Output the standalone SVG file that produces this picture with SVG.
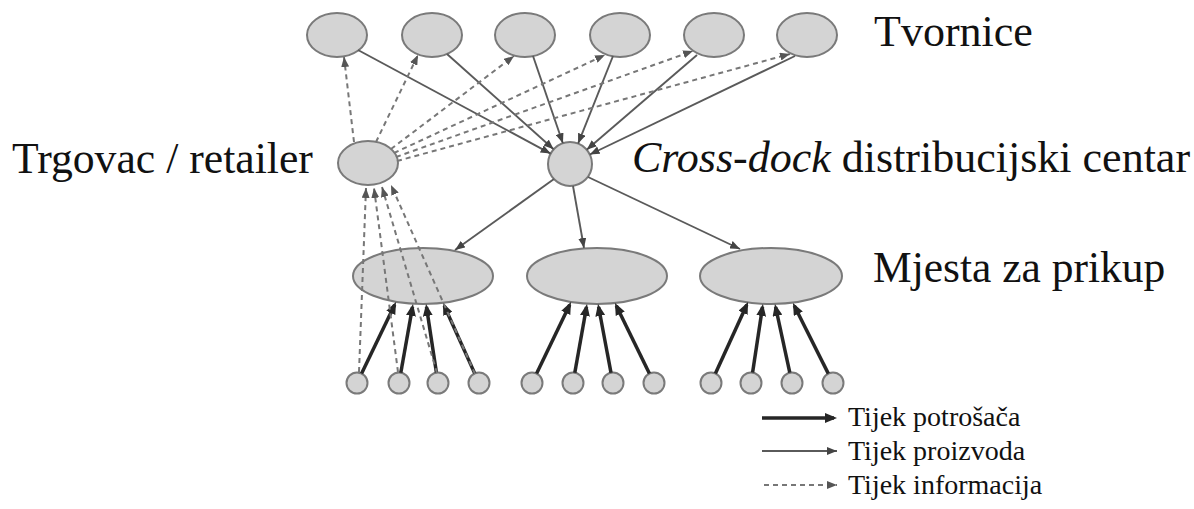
<svg xmlns="http://www.w3.org/2000/svg" width="1194" height="509" viewBox="0 0 1194 509">
  <style>
    .node { fill: #d4d4d4; stroke: #7a7a7a; stroke-width: 2; }
    .thick { stroke: #262626; stroke-width: 3.5; fill: none; marker-end: url(#mThick); }
    .prod { stroke: #5a5a5a; stroke-width: 1.9; fill: none; marker-end: url(#mProd); }
    .info { stroke: #777; stroke-width: 2; stroke-dasharray: 5 4; fill: none; marker-end: url(#mInfo); }
    text { font-family: 'Liberation Serif', 'DejaVu Serif', serif; fill: #111; }
  </style>
  <defs>
    <marker id="mThick" viewBox="0 0 12 10" refX="9" refY="5" markerWidth="12" markerHeight="10" markerUnits="userSpaceOnUse" orient="auto">
      <path d="M0,0 L12,5 L0,10 z" fill="#262626"/>
    </marker>
    <marker id="mProd" viewBox="0 0 10 8" refX="10" refY="4" markerWidth="10" markerHeight="8" markerUnits="userSpaceOnUse" orient="auto">
      <path d="M0,0 L10,4 L0,8 z" fill="#444"/>
    </marker>
    <marker id="mInfo" viewBox="0 0 10 8" refX="10" refY="4" markerWidth="10" markerHeight="8" markerUnits="userSpaceOnUse" orient="auto">
      <path d="M0,0 L10,4 L0,8 z" fill="#555"/>
    </marker>
  </defs>

  <g id="factories">
    <g id="factory1"><ellipse class="node" cx="337" cy="35" rx="30" ry="22"/></g>
    <g id="factory2"><ellipse class="node" cx="432" cy="35" rx="30" ry="22"/></g>
    <g id="factory3"><ellipse class="node" cx="525" cy="35" rx="30" ry="22"/></g>
    <g id="factory4"><ellipse class="node" cx="620" cy="35" rx="30" ry="22"/></g>
    <g id="factory5"><ellipse class="node" cx="714" cy="35" rx="30" ry="22"/></g>
    <g id="factory6"><ellipse class="node" cx="807" cy="35" rx="30" ry="22"/></g>
  </g>
  <g id="retailer"><ellipse class="node" cx="368" cy="163" rx="30" ry="22"/></g>
  <g id="crossdock"><circle class="node" cx="570" cy="164" r="22"/></g>
  <g id="pickup1"><ellipse class="node" cx="423" cy="276" rx="70" ry="28"/></g>
  <g id="pickup2"><ellipse class="node" cx="597" cy="276" rx="70" ry="28"/></g>
  <g id="pickup3"><ellipse class="node" cx="771" cy="276" rx="71" ry="28"/></g>
  <g id="customers">
    <circle class="node" cx="357" cy="383" r="10.5"/>
    <circle class="node" cx="399" cy="383" r="10.5"/>
    <circle class="node" cx="438" cy="383" r="10.5"/>
    <circle class="node" cx="479" cy="383" r="10.5"/>
    <circle class="node" cx="532" cy="383" r="10.5"/>
    <circle class="node" cx="573" cy="383" r="10.5"/>
    <circle class="node" cx="613" cy="383" r="10.5"/>
    <circle class="node" cx="654" cy="383" r="10.5"/>
    <circle class="node" cx="711" cy="383" r="10.5"/>
    <circle class="node" cx="751" cy="383" r="10.5"/>
    <circle class="node" cx="792" cy="383" r="10.5"/>
    <circle class="node" cx="833" cy="383" r="10.5"/>
  </g>

  <g id="connectors">
    <!-- factories to cross-dock (product flow) -->
    <line class="prod" x1="358" y1="50" x2="550.6" y2="153.6"/>
    <line class="prod" x1="447" y1="54" x2="553.6" y2="149.3"/>
    <line class="prod" x1="533" y1="56" x2="562.9" y2="143.2"/>
    <line class="prod" x1="613" y1="56" x2="578.1" y2="143.6"/>
    <line class="prod" x1="697" y1="55" x2="586.7" y2="149.7"/>
    <line class="prod" x1="795" y1="56" x2="589.8" y2="154.5"/>
    <!-- cross-dock to pickup points -->
    <line class="prod" x1="554" y1="179" x2="455" y2="250"/>
    <line class="prod" x1="573" y1="186" x2="584" y2="248"/>
    <line class="prod" x1="588" y1="177" x2="740" y2="249"/>
    <!-- retailer to factories (information) -->
    <line class="info" x1="354" y1="142" x2="344" y2="57"/>
    <line class="info" x1="376" y1="142" x2="418" y2="55"/>
    <line class="info" x1="391" y1="149" x2="514" y2="56"/>
    <line class="info" x1="394" y1="153" x2="605" y2="55"/>
    <line class="info" x1="396" y1="157" x2="693" y2="51"/>
    <line class="info" x1="397" y1="161" x2="790" y2="54"/>
    <!-- customers to pickup points (customer flow) -->
    <line class="thick" x1="361.6" y1="373.5" x2="394.7" y2="304.7"/>
    <line class="thick" x1="400.8" y1="372.7" x2="412.5" y2="307"/>
    <line class="thick" x1="436.4" y1="372.6" x2="426.5" y2="307"/>
    <line class="thick" x1="474.7" y1="373.4" x2="444.2" y2="305.7"/>
    <line class="thick" x1="536.6" y1="373.5" x2="569.7" y2="304.7"/>
    <line class="thick" x1="574.8" y1="372.7" x2="586.5" y2="307"/>
    <line class="thick" x1="611" y1="372.7" x2="598.6" y2="307"/>
    <line class="thick" x1="649.4" y1="373.6" x2="616.3" y2="305.7"/>
    <line class="thick" x1="715.4" y1="373.4" x2="746.8" y2="304.7"/>
    <line class="thick" x1="752.6" y1="372.6" x2="762.5" y2="307"/>
    <line class="thick" x1="789.8" y1="372.7" x2="775.6" y2="307"/>
    <line class="thick" x1="828.3" y1="373.6" x2="794.3" y2="305.7"/>
    <!-- customers to retailer (information), drawn over the pickup ellipse -->
    <line class="info" x1="359" y1="372" x2="366" y2="188"/>
    <line class="info" x1="398" y1="372" x2="374" y2="188"/>
    <line class="info" x1="437" y1="373" x2="382" y2="187"/>
    <line class="info" x1="475" y1="374" x2="391" y2="185"/>
  </g>

  <g id="labels">
    <text x="874" y="46" font-size="44">Tvornice</text>
    <text x="12" y="173" font-size="43.7">Trgovac / retailer</text>
    <text x="632" y="172" font-size="44"><tspan font-style="italic">Cross-dock</tspan> distribucijski centar</text>
    <text x="873" y="282" font-size="43.5">Mjesta za prikup</text>
  </g>

  <g id="legend">
    <line class="thick" x1="762" y1="418" x2="834" y2="418"/>
    <line class="prod" x1="762" y1="451" x2="837" y2="451"/>
    <line class="info" x1="764" y1="485" x2="837" y2="485"/>
    <text x="848" y="426" font-size="28">Tijek potrošača</text>
    <text x="848" y="460" font-size="28">Tijek proizvoda</text>
    <text x="848" y="494" font-size="28">Tijek informacija</text>
  </g>
</svg>
